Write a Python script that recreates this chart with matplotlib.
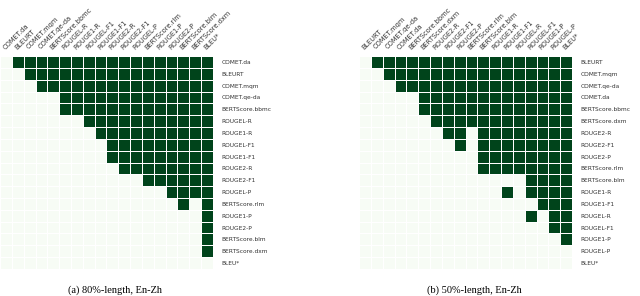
# Pairwise significance matrices for metric rankings (80% and 50% length, En-Zh)
import numpy as np
import matplotlib.pyplot as plt

labels_80 = ["COMET.da", "BLEURT", "COMET.mqm", "COMET.qe-da", "BERTScore.bbmc",
             "ROUGEL-R", "ROUGE1-R", "ROUGEL-F1", "ROUGE1-F1", "ROUGE2-R",
             "ROUGE2-F1", "ROUGEL-P", "BERTScore.rlm", "ROUGE1-P", "ROUGE2-P",
             "BERTScore.blm", "BERTScore.dxm", "BLEU*"]

labels_50 = ["BLEURT", "COMET.mqm", "COMET.qe-da", "COMET.da", "BERTScore.bbmc",
             "BERTScore.dxm", "ROUGE2-R", "ROUGE2-F1", "ROUGE2-P", "BERTScore.rlm",
             "BERTScore.blm", "ROUGE1-R", "ROUGE1-F1", "ROUGEL-R", "ROUGEL-F1",
             "ROUGE1-P", "ROUGEL-P", "BLEU*"]

# 1 = row metric significantly better than column metric
sig_80 = ["011111111111111111",
          "001111111111111111",
          "000111111111111111",
          "000001111111111111",
          "000001111111111111",
          "000000011111111111",
          "000000001111111111",
          "000000000111111111",
          "000000000111111111",
          "000000000011111111",
          "000000000000111111",
          "000000000000001111",
          "000000000000000101",
          "000000000000000001",
          "000000000000000001",
          "000000000000000001",
          "000000000000000001",
          "000000000000000000"]

sig_50 = ["011111111111111111",
          "001111111111111111",
          "000111111111111111",
          "000001111111111111",
          "000001111111111111",
          "000000111111111111",
          "000000011011111111",
          "000000001011111111",
          "000000000011111111",
          "000000000011111111",
          "000000000000001111",
          "000000000000101111",
          "000000000000000111",
          "000000000000001011",
          "000000000000000011",
          "000000000000000001",
          "000000000000000000",
          "000000000000000000"]

captions = ["(a) 80%-length, En-Zh", "(b) 50%-length, En-Zh"]


def to_matrix(rows):
    return np.array([[int(c) for c in r] for r in rows])


fig = plt.figure(figsize=(6.4, 2.96), dpi=100)

panels = [(0.0 / 640, labels_80, sig_80, captions[0]),
          (359.0 / 640, labels_50, sig_50, captions[1])]

for left, labels, sig, cap in panels:
    ax = fig.add_axes([left, 27 / 296, 213 / 640, 213 / 296])
    m = to_matrix(sig)
    n = len(labels)
    ax.pcolormesh(m, cmap="Greens", vmin=0, vmax=1, edgecolors="white", linewidth=0.6)
    ax.set_xlim(0, n)
    ax.set_ylim(n, 0)
    ax.set_aspect("auto")
    for s in ax.spines.values():
        s.set_visible(False)

    ax.set_xticks(np.arange(n) + 0.5)
    ax.set_yticks(np.arange(n) + 0.5)
    ax.xaxis.tick_top()
    ax.yaxis.tick_right()
    ax.set_xticklabels(labels, rotation=45, ha="left", va="bottom",
                       rotation_mode="anchor", fontsize=4.8, color="#333333")
    ax.set_yticklabels(labels, fontsize=4.2, color="#333333")
    ax.tick_params(axis="x", length=0, pad=4)
    ax.tick_params(axis="y", length=0, pad=6)

    ax.text(0.54, -0.1, cap, transform=ax.transAxes, ha="center", va="center",
            fontsize=7.5, family="Liberation Serif")

fig.savefig("out.png", dpi=100)
